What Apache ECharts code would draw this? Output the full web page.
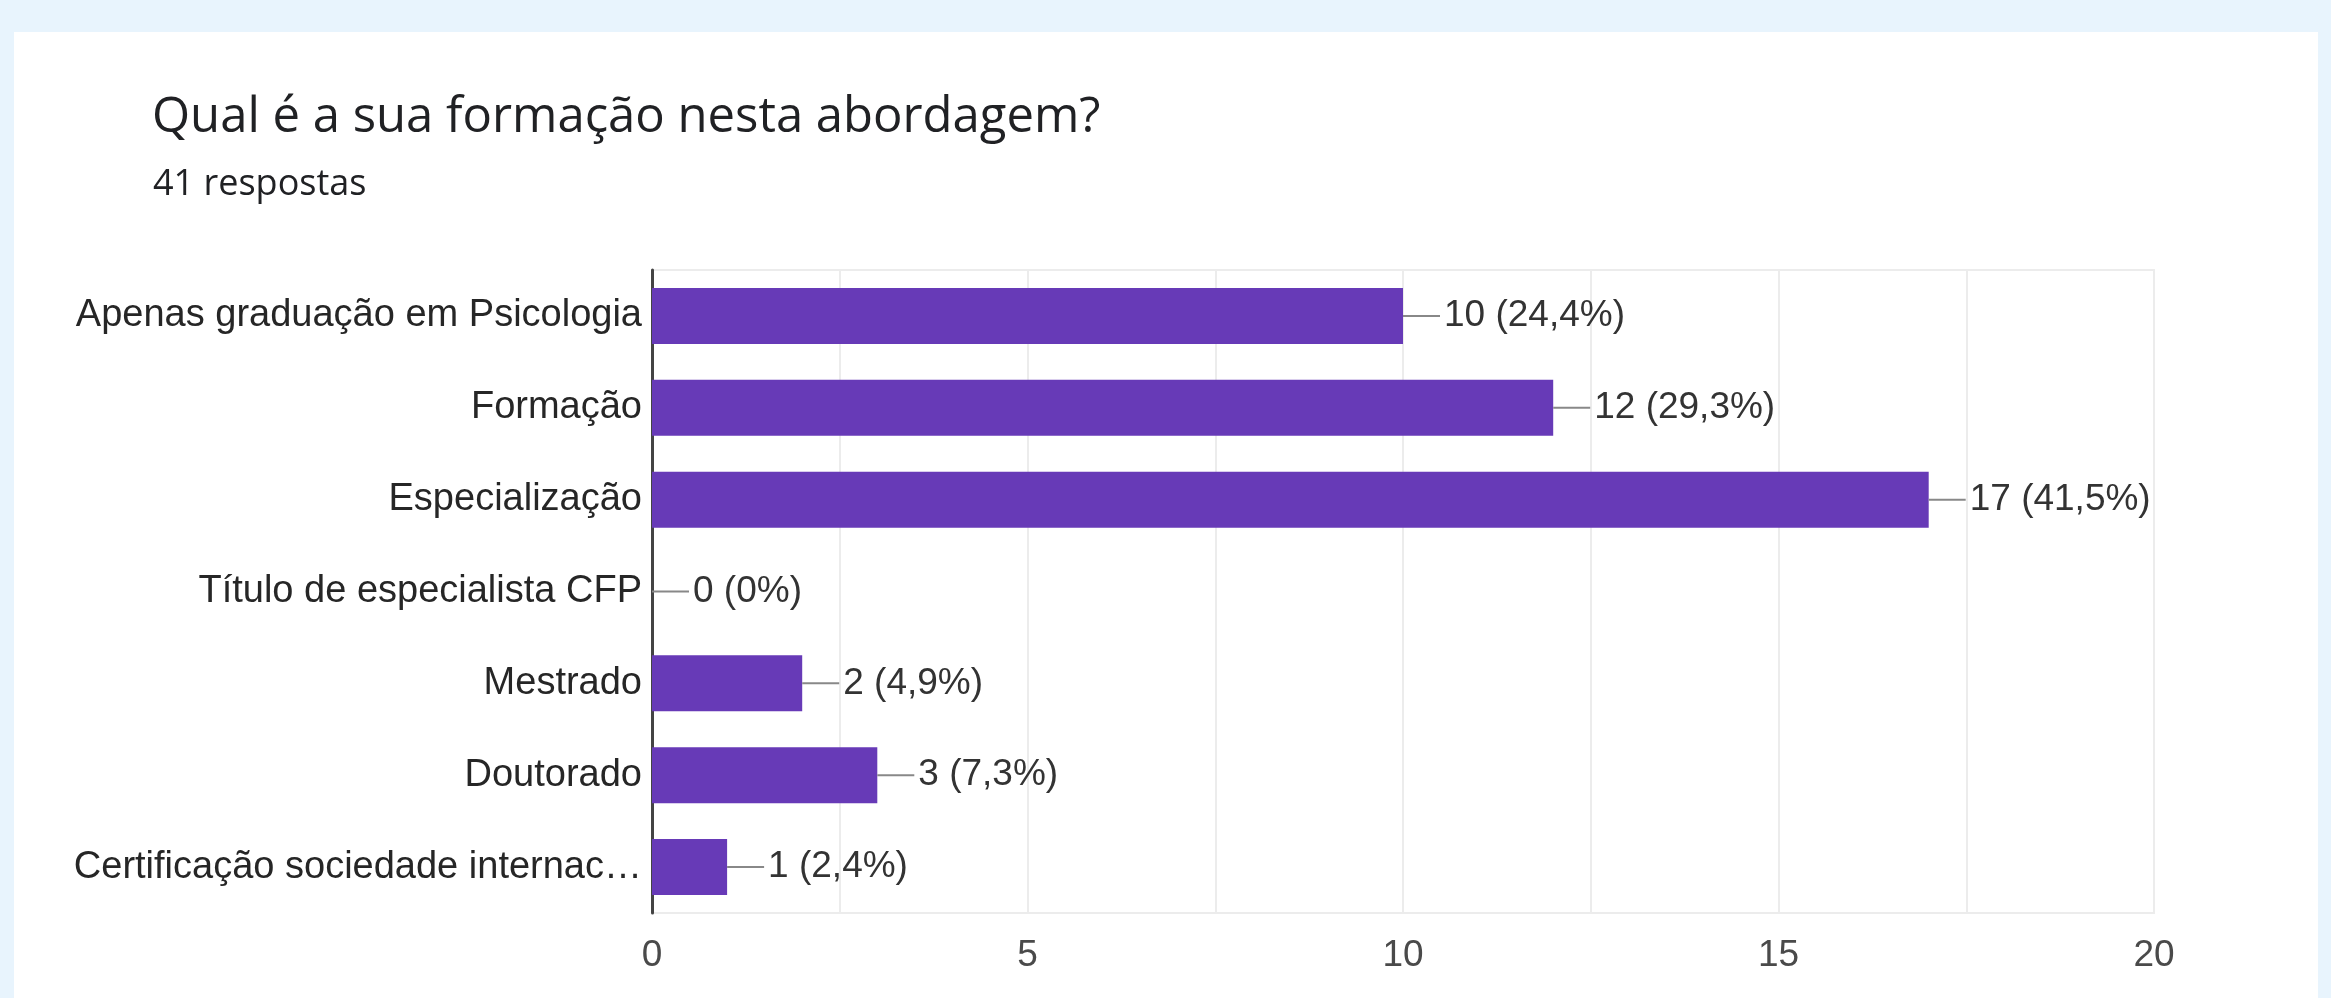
<!DOCTYPE html>
<html>
<head>
  <meta charset="utf-8" />
  <title>Qual é a sua formação nesta abordagem?</title>
  <script src="https://cdn.jsdelivr.net/npm/echarts@6/dist/echarts.min.js"></script>
  <style>
    html,
    body {
      margin: 0;
      padding: 0;
      background: #e8f4fd;
    }
    #chart {
      width: 2331px;
      height: 998px;
    }
  </style>
</head>
<body>
  <div id="chart"></div>
  <script>
    // respostas por categoria (41 no total)
    const categories = [
      'Apenas graduação em Psicologia',
      'Formação',
      'Especialização',
      'Título de especialista CFP',
      'Mestrado',
      'Doutorado',
      'Certificação sociedade internac…',
    ];
    const counts = [10, 12, 17, 0, 2, 3, 1];
    const percents = ['24,4%', '29,3%', '41,5%', '0%', '4,9%', '7,3%', '2,4%'];
    const xTicks = [0, 5, 10, 15, 20];

    const chartInstance = echarts.init(document.getElementById('chart'));

    const option = {
      backgroundColor: '#e8f4fd',
      animation: false,
      graphic: [
        {
          type: 'rect',
          shape: { x: 14, y: 32, width: 2304, height: 1000 },
          style: { fill: '#ffffff' },
          z: -10,
        },
      ],
      title: [
        {
          text: 'Qual é a sua formação nesta abordagem?',
          left: 147,
          top: 89,
          textStyle: {
            fontFamily: 'Open Sans',
            fontSize: 49,
            fontWeight: 'normal',
            color: '#202124',
          },
        },
        {
          text: '41 respostas',
          left: 148,
          top: 162,
          textStyle: {
            fontFamily: 'Open Sans',
            fontSize: 36,
            fontWeight: 'normal',
            color: '#202124',
          },
        },
      ],
      grid: {
        left: 652,
        right: 177,
        top: 270,
        bottom: 85,
        show: true,
        borderColor: '#ececec',
        borderWidth: 2,
      },
      xAxis: {
        type: 'value',
        min: 0,
        max: 20,
        interval: 2.5,
        axisLine: { show: false },
        axisTick: { show: false },
        splitLine: { lineStyle: { color: '#ececec', width: 2 } },
        axisLabel: {
          margin: 24,
          fontFamily: 'Liberation Sans',
          fontSize: 37,
          color: '#4a4a4a',
          formatter: (v) => (xTicks.includes(v) ? String(v) : ''),
        },
      },
      yAxis: {
        type: 'category',
        inverse: true,
        data: categories,
        axisLine: { lineStyle: { color: '#444', width: 3 } },
        axisTick: { show: false },
        axisLabel: {
          margin: 10,
          fontFamily: 'Liberation Sans',
          fontSize: 38,
          color: '#262626',
        },
      },
      series: [
        {
          type: 'bar',
          data: counts,
          barWidth: 56,
          itemStyle: { color: '#673ab7' },
          label: {
            show: true,
            position: 'right',
            distance: 0,
            formatter: (p) => `{line| }{val|${p.value} (${percents[p.dataIndex]})}`,
            rich: {
              line: {
                width: 37,
                height: 2,
                backgroundColor: '#888888',
              },
              val: {
                padding: [0, 0, 0, 4],
                fontFamily: 'Liberation Sans',
                fontSize: 37,
                color: '#333',
              },
            },
          },
        },
      ],
    };

    chartInstance.setOption(option);
  </script>
</body>
</html>
